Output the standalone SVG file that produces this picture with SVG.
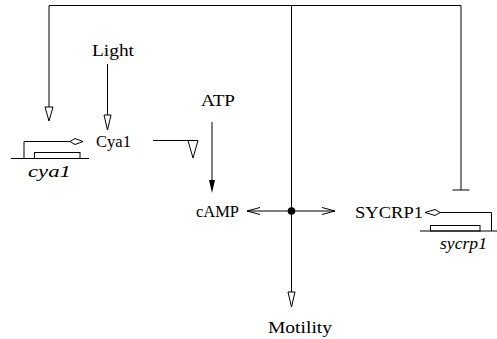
<svg xmlns="http://www.w3.org/2000/svg" width="497" height="339" viewBox="0 0 497 339">
<style>
.l{fill:none;stroke:#000;stroke-width:1}
.oh{fill:#fff;stroke:#000;stroke-width:1}
.fh{fill:#000;stroke:none}
text{fill:#000}
.t{font-size:17.5px}
.i{font-size:17px;font-style:italic}
</style>
<rect width="497" height="339" fill="#fff"/>
<g id="connectors">
  <path class="l" d="M49,107 V5.5 H461 V190"/>
  <line class="l" x1="452.5" y1="190" x2="469.5" y2="190"/>
  <polygon class="oh" points="45,107 53,107 49,121"/>
  <line class="l" x1="107.5" y1="64" x2="107.5" y2="115"/>
  <polygon class="oh" points="104,115 111,115 107.5,130"/>
  <line class="l" x1="153" y1="140.5" x2="188" y2="140.5"/>
  <polygon class="oh" points="188,140.5 198,140.5 193,158"/>
  <line class="l" x1="212" y1="122" x2="212" y2="181"/>
  <polygon class="fh" points="209,180 215,180 212,193"/>
  <line class="l" x1="291.5" y1="5.5" x2="291.5" y2="292"/>
  <polygon class="oh" points="288,292 295,292 291.5,307"/>
  <line class="l" x1="247" y1="211" x2="335" y2="211"/>
  <polyline class="l" points="260,207.5 247,211 260,214.5"/>
  <polyline class="l" points="322,207.5 335,211 322,214.5"/>
  <circle cx="291.5" cy="211" r="3.8" fill="#000"/>
</g>
<g font-family="Liberation Serif, DejaVu Serif, serif">
<g id="Light"><text class="t" x="92" y="56" textLength="42" lengthAdjust="spacingAndGlyphs">Light</text></g>
<g id="Cya1"><text class="t" x="96" y="147" textLength="35" lengthAdjust="spacingAndGlyphs">Cya1</text></g>
<g id="ATP"><text class="t" x="201" y="106" textLength="34" lengthAdjust="spacingAndGlyphs">ATP</text></g>
<g id="cAMP"><text class="t" x="196" y="216.5" textLength="43" lengthAdjust="spacingAndGlyphs">cAMP</text></g>
<g id="SYCRP1"><text class="t" x="355" y="217.5" textLength="68" lengthAdjust="spacingAndGlyphs">SYCRP1</text></g>
<g id="Motility"><text class="t" x="268" y="333" textLength="64" lengthAdjust="spacingAndGlyphs">Motility</text></g>
<g id="cya1-gene">
  <line class="l" x1="11" y1="158.5" x2="89" y2="158.5"/>
  <rect class="l" x="34.5" y="152.5" width="45.5" height="6"/>
  <path class="l" d="M24,158.5 V141.5 H70"/>
  <path class="oh" d="M70,141.5 L75,138.5 L83,141.5 L75,144.5 Z"/>
  <text class="i" x="28" y="177" textLength="43" lengthAdjust="spacingAndGlyphs">cya1</text>
</g>
<g id="sycrp1-gene">
  <line class="l" x1="420" y1="231" x2="497" y2="231"/>
  <rect class="l" x="430.5" y="225.5" width="49.5" height="5.5"/>
  <path class="l" d="M491.5,231 V212.5 H440"/>
  <path class="oh" d="M440,212.5 L435,209.5 L425,212.5 L435,215.5 Z"/>
  <text class="i" x="440" y="249" textLength="47" lengthAdjust="spacingAndGlyphs">sycrp1</text>
</g>
</g>
</svg>
